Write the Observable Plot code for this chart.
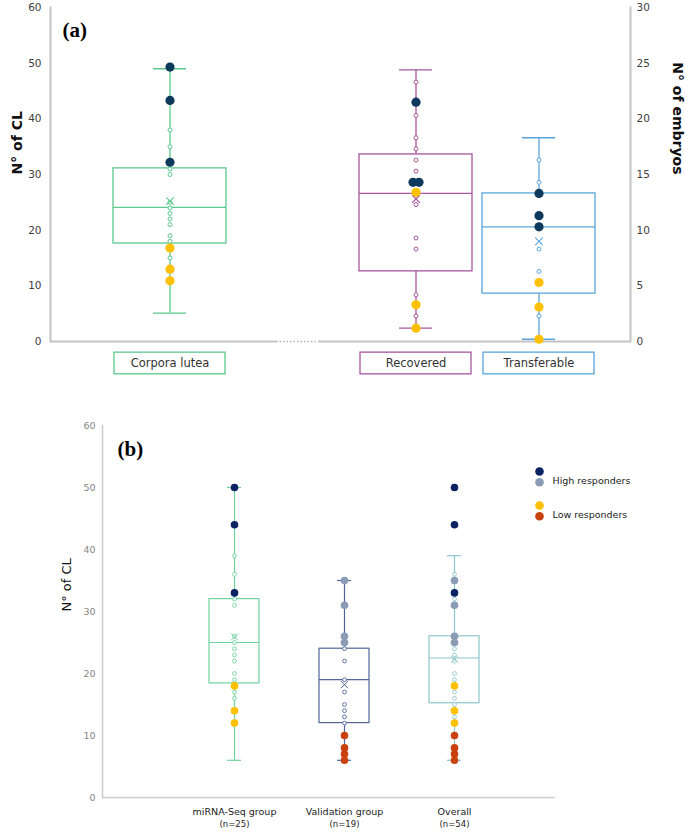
<!DOCTYPE html>
<html><head><meta charset="utf-8">
<script src="https://cdn.jsdelivr.net/npm/d3@7"></script>
<script src="https://cdn.jsdelivr.net/npm/@observablehq/plot@0.6"></script>
<style>
html,body{margin:0;padding:0;background:#fff;}
svg{display:block;}
</style></head><body>
<div id="a"></div><div id="b"></div>
<script>
// ================= Panel (a) data =================
const catA = ["Corpora lutea", "Recovered", "Transferable"];
const unitA = ["CL", "embryos", "embryos"];
const colorA = ["#5cc98c", "#a6569c", "#5aa5dc"];
const whiskerLowA = [5.1, 1.2, 0.2];
const q1A = [17.6, 6.3, 4.3];
const medianA = [24.1, 13.3, 10.3];
const q3A = [31.1, 16.8, 13.3];
const whiskerHighA = [49.0, 24.4, 18.3];
const meanA = [25.2, 12.8, 9.0];
const pointsCL = [38, 35, 31, 30, 25, 24, 23, 22, 21, 19, 18, 15];
const highCL = [49.3, 43.3, 32.2];
const lowCL = [16.8, 13.0, 10.9];
const pointsRecovered = [23.3, 20.3, 18.3, 17.3, 16.3, 15.3, 12.3, 9.3, 8.3, 4.2, 2.3];
const highRecovered = [21.5];
const highRecoveredPair = [14.3, 14.3];
const lowRecovered = [13.4, 3.3, 1.2];
const pointsTransferable = [16.3, 14.3, 8.3, 6.3, 2.3];
const highTransferable = [13.3, 11.3, 10.3];
const lowTransferable = [5.3, 3.1, 0.2];
const ticksCL = [0, 10, 20, 30, 40, 50, 60];
const ticksEmbryos = [0, 5, 10, 15, 20, 25, 30];
const highColorA = "#0d3a5c";
const lowColorA = "#ffc000";

// ================= Panel (b) data =================
const catB = ["miRNA-Seq group", "Validation group", "Overall"];
const nB = [25, 19, 54];
const colorB = ["#6fd39e", "#51659a", "#8ec5cc"];
const whiskerLowB = [6, 6, 6];
const q1B = [18.4, 12, 15.2];
const medianB = [25, 19, 22.5];
const q3B = [32, 24, 26];
const whiskerHighB = [50, 35, 39];
const meanB = [25.9, 18.2, 22.3];
const pointsMiRNA = [39, 36, 32, 31, 26, 25, 24, 23, 22, 20, 19, 17, 16];
const navyMiRNA = [50, 44, 33];
const yellowMiRNA = [18, 14, 12];
const pointsValidation = [24, 22, 19, 17, 15, 14, 13, 12];
const slateValidation = [35, 31, 26, 25];
const redValidation = [10, 8, 7, 6];
const pointsOverall = [36, 32, 24, 23, 22, 20, 19, 17, 16, 15, 13];
const navyOverall = [50, 44, 33];
const slateOverall = [35, 31, 26, 25];
const yellowOverall = [18, 14, 12];
const redOverall = [10, 8, 7, 6];
const ticksB = [0, 10, 20, 30, 40, 50, 60];
const legendLabels = ["High responders", "Low responders"];
const navyB = "#0b2263", slateB = "#8a9bb5", yellowB = "#ffc000", redB = "#c8410f";

const FONT = "DejaVu Sans, Lato, sans-serif";

// ================= Panel (a) =================
const ratio = d3.max(ticksCL) / d3.max(ticksEmbryos);
const kA = i => unitA[i] === "CL" ? 1 : ratio;
const statsA = catA.map((c, i) => ({
  cat: c, color: colorA[i],
  lo: whiskerLowA[i] * kA(i), q1: q1A[i] * kA(i), med: medianA[i] * kA(i),
  q3: q3A[i] * kA(i), hi: whiskerHighA[i] * kA(i), mean: meanA[i] * kA(i)
}));
const ptsA = (cat, arr) => { const i = catA.indexOf(cat); return arr.map(v => ({cat, v: v * kA(i), color: colorA[i]})); };
const smallA = [...ptsA("Corpora lutea", pointsCL), ...ptsA("Recovered", pointsRecovered), ...ptsA("Transferable", pointsTransferable)];
const highA = [...ptsA("Corpora lutea", highCL), ...ptsA("Recovered", highRecovered), ...ptsA("Transferable", highTransferable)];
const pairA = ptsA("Recovered", highRecoveredPair);
const lowA = [...ptsA("Corpora lutea", lowCL), ...ptsA("Recovered", lowRecovered), ...ptsA("Transferable", lowTransferable)];
const gapRow = [{cat: "gap", v: 0}];

const plotA = Plot.plot({
  width: 685, height: 390,
  marginLeft: 50, marginRight: 55, marginTop: 7, marginBottom: 49,
  style: {fontFamily: FONT, background: "white"},
  color: {type: "identity"},
  x: {type: "band", domain: ["Corpora lutea", "gap", "Recovered", "Transferable"],
      paddingInner: 0.0806, paddingOuter: 0, insetLeft: 61, insetRight: 33, axis: null},
  y: {domain: [0, 60]},
  marks: [
    Plot.frame({anchor: "left", stroke: "#c4c4c4", strokeWidth: 2}),
    Plot.frame({anchor: "right", stroke: "#c4c4c4", strokeWidth: 2}),
    Plot.ruleY([0], {stroke: "#c4c4c4", strokeWidth: 2}),
    Plot.tickY(gapRow, {x: "cat", y: "v", stroke: "white", strokeWidth: 4, insetLeft: 40, insetRight: 31}),
    Plot.tickY(gapRow, {x: "cat", y: "v", stroke: "#b0b0b0", strokeWidth: 1.5, strokeDasharray: "1.5,2", insetLeft: 40, insetRight: 31}),
    Plot.axisY(ticksCL, {anchor: "left", tickSize: 0, tickPadding: 9, fontSize: 10.5, color: "#404040", label: null}),
    Plot.axisY(ticksEmbryos.map(t => t * ratio), {anchor: "right", tickSize: 0, tickPadding: 6, fontSize: 10.5, color: "#404040", label: null, tickFormat: d => d / ratio}),
    Plot.text(["N° of CL"], {frameAnchor: "left", dx: -33, rotate: -90, fontSize: 14, fontWeight: "bold", fill: "#111"}),
    Plot.text(["N° of embryos"], {frameAnchor: "right", dx: 47, rotate: 90, fontSize: 14, fontWeight: "bold", fill: "#111"}),
    Plot.text(["(a)"], {frameAnchor: "top-left", dx: 12, dy: 15, textAnchor: "start", fontSize: 21, fontWeight: "bold", fontFamily: "Liberation Serif, serif", fill: "#000"}),
    // boxes
    Plot.ruleX(statsA, {x: "cat", y1: "lo", y2: "q1", stroke: "color", strokeWidth: 1.3}),
    Plot.ruleX(statsA, {x: "cat", y1: "q3", y2: "hi", stroke: "color", strokeWidth: 1.3}),
    Plot.barY(statsA, {x: "cat", y1: "q1", y2: "q3", fill: "none", stroke: "color", strokeWidth: 1.3}),
    Plot.tickY(statsA, {x: "cat", y: "med", stroke: "color", strokeWidth: 1.3}),
    Plot.tickY(statsA, {x: "cat", y: "lo", stroke: "color", strokeWidth: 1.3, insetLeft: 40, insetRight: 40}),
    Plot.tickY(statsA, {x: "cat", y: "hi", stroke: "color", strokeWidth: 1.3, insetLeft: 40, insetRight: 40}),
    Plot.dot(smallA, {x: "cat", y: "v", r: 2, fill: "white", stroke: "color", strokeWidth: 1}),
    Plot.dot(statsA, {x: "cat", y: "mean", r: 3.5, symbol: "times", stroke: "color", strokeWidth: 1.1}),
    Plot.dot(highA, {x: "cat", y: "v", r: 4.6, fill: highColorA}),
    Plot.dot(pairA.slice(0, 1), {x: "cat", y: "v", r: 4.6, fill: highColorA, dx: -3}),
    Plot.dot(pairA.slice(1), {x: "cat", y: "v", r: 4.6, fill: highColorA, dx: 3}),
    Plot.dot(lowA, {x: "cat", y: "v", r: 4.6, fill: lowColorA}),
    // category labels in boxes
    Plot.barY(statsA, {x: "cat", y1: () => -2, y2: () => -5.9, fill: "white", stroke: "color", strokeWidth: 1.3, insetLeft: 1, insetRight: 1}),
    Plot.text(statsA, {x: "cat", y: () => -3.95, text: "cat", fontSize: 11.5, fill: "#333"})
  ]
});
document.getElementById("a").appendChild(plotA);

// ================= Panel (b) =================
const statsB = catB.map((c, i) => ({
  cat: c, n: nB[i], color: colorB[i],
  lo: whiskerLowB[i], q1: q1B[i], med: medianB[i], q3: q3B[i], hi: whiskerHighB[i], mean: meanB[i]
}));
const ptsB = (cat, arr, color) => arr.map(v => ({cat, v, color: color ?? colorB[catB.indexOf(cat)]}));
const smallB = [...ptsB("miRNA-Seq group", pointsMiRNA), ...ptsB("Validation group", pointsValidation), ...ptsB("Overall", pointsOverall)];
const bigB = [
  ...ptsB("miRNA-Seq group", navyMiRNA, navyB), ...ptsB("miRNA-Seq group", yellowMiRNA, yellowB),
  ...ptsB("Validation group", slateValidation, slateB), ...ptsB("Validation group", redValidation, redB),
  ...ptsB("Overall", navyOverall, navyB), ...ptsB("Overall", slateOverall, slateB),
  ...ptsB("Overall", yellowOverall, yellowB), ...ptsB("Overall", redOverall, redB)
];

const plotB = Plot.plot({
  width: 685, height: 443,
  marginLeft: 102, marginRight: 130, marginTop: 35, marginBottom: 36,
  style: {fontFamily: FONT, background: "white"},
  color: {type: "identity"},
  x: {type: "band", domain: catB, paddingInner: 0.5475, paddingOuter: 0, insetLeft: 106, insetRight: 76, axis: null},
  y: {domain: [0, 60]},
  marks: [
    Plot.frame({anchor: "left", stroke: "#cccccc", strokeWidth: 1.5}),
    Plot.ruleY([0], {stroke: "#cccccc", strokeWidth: 1.5}),
    Plot.axisY(ticksB, {anchor: "left", tickSize: 0, tickPadding: 7, fontSize: 9.5, color: "#858585", label: null}),
    Plot.text(["N° of CL"], {frameAnchor: "left", dx: -36, rotate: -90, fontSize: 13, fill: "#111"}),
    Plot.text(["(b)"], {frameAnchor: "top-left", dx: 15, dy: 16, textAnchor: "start", fontSize: 21, fontWeight: "bold", fontFamily: "Liberation Serif, serif", fill: "#000"}),
    Plot.ruleX(statsB, {x: "cat", y1: "lo", y2: "q1", stroke: "color", strokeWidth: 1.2}),
    Plot.ruleX(statsB, {x: "cat", y1: "q3", y2: "hi", stroke: "color", strokeWidth: 1.2}),
    Plot.barY(statsB, {x: "cat", y1: "q1", y2: "q3", fill: "none", stroke: "color", strokeWidth: 1.2}),
    Plot.tickY(statsB, {x: "cat", y: "med", stroke: "color", strokeWidth: 1.2}),
    Plot.tickY(statsB, {x: "cat", y: "lo", stroke: "color", strokeWidth: 1.2, insetLeft: 18, insetRight: 18}),
    Plot.tickY(statsB, {x: "cat", y: "hi", stroke: "color", strokeWidth: 1.2, insetLeft: 18, insetRight: 18}),
    Plot.dot(smallB, {x: "cat", y: "v", r: 1.9, fill: "white", stroke: "color", strokeWidth: 0.9}),
    Plot.dot(statsB, {x: "cat", y: "mean", r: 3.3, symbol: "times", stroke: "color", strokeWidth: 1}),
    Plot.dot(bigB, {x: "cat", y: "v", r: 3.8, fill: "color"}),
    Plot.text(statsB, {x: "cat", frameAnchor: "bottom", dy: 17, text: "cat", fontSize: 9.5, fill: "#222"}),
    Plot.text(statsB, {x: "cat", frameAnchor: "bottom", dy: 29, text: d => `(n=${d.n})`, fontSize: 8.5, fill: "#222"}),
    // legend
    Plot.dot([navyB], {frameAnchor: "top-right", dx: -16, dy: 46, r: 4.3, fill: d => d}),
    Plot.dot([slateB], {frameAnchor: "top-right", dx: -16, dy: 56.7, r: 4.3, fill: d => d}),
    Plot.dot([yellowB], {frameAnchor: "top-right", dx: -16, dy: 80, r: 4.3, fill: d => d}),
    Plot.dot([redB], {frameAnchor: "top-right", dx: -16, dy: 90.7, r: 4.3, fill: d => d}),
    Plot.text([legendLabels[0]], {frameAnchor: "top-right", dx: -3, dy: 51.7, textAnchor: "start", fontSize: 9.5, fill: "#222"}),
    Plot.text([legendLabels[1]], {frameAnchor: "top-right", dx: -3, dy: 85.7, textAnchor: "start", fontSize: 9.5, fill: "#222"})
  ]
});
document.getElementById("b").appendChild(plotB);
</script>
</body></html>
